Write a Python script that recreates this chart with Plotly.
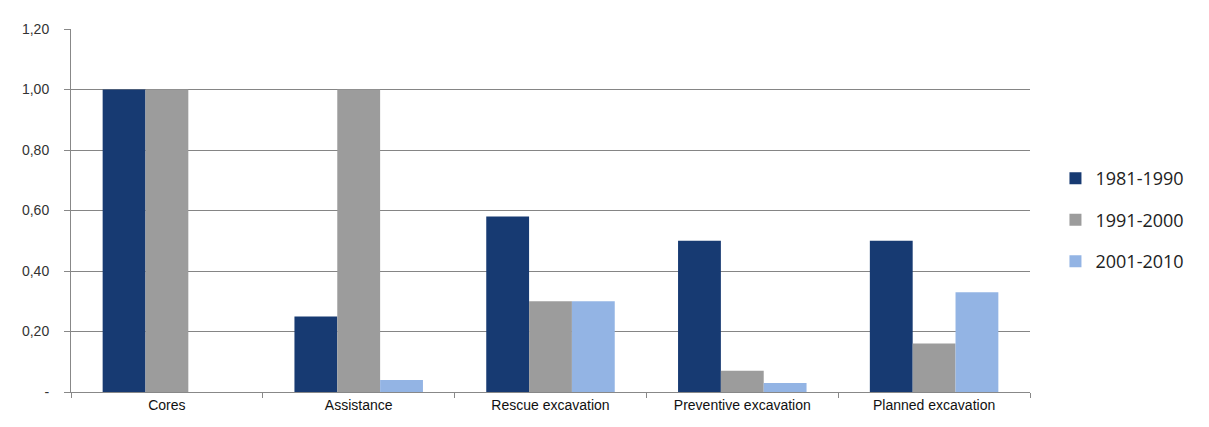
import plotly.graph_objects as go

categories = ["Cores", "Assistance", "Rescue excavation", "Preventive excavation", "Planned excavation"]
series_names = ["1981-1990", "1991-2000", "2001-2010"]
values_1981_1990 = [1.00, 0.25, 0.58, 0.50, 0.50]
values_1991_2000 = [1.00, 1.00, 0.30, 0.07, 0.16]
values_2001_2010 = [0.00, 0.04, 0.30, 0.03, 0.33]
y_tick_values = [0, 0.2, 0.4, 0.6, 0.8, 1.0, 1.2]
y_tick_labels = ["-", "0,20", "0,40", "0,60", "0,80", "1,00", "1,20"]

colors = ["#173a72", "#9c9c9c", "#93b4e4"]

fig = go.Figure()
for i, (name, vals) in enumerate(zip(series_names, [values_1981_1990, values_1991_2000, values_2001_2010])):
    fig.add_trace(go.Bar(
        x=categories, y=vals, name=name, legendgroup=name,
        marker=dict(color=colors[i], line=dict(width=0)),
    ))

fig.update_layout(
    width=1209, height=427,
    margin=dict(l=71, r=179, t=29, b=35),
    paper_bgcolor="white", plot_bgcolor="white",
    barmode="group", bargap=0.33, bargroupgap=0,
    font=dict(family="Liberation Sans, Arial, sans-serif", size=13, color="#222"),
    legend=dict(
        xref="container", yref="container", x=0.873, y=0.625,
        xanchor="left", yanchor="top",
        font=dict(family="Open Sans, sans-serif", size=18, color="#222"),
        traceorder="grouped", tracegroupgap=15,
        itemwidth=30,
    ),
    showlegend=True,
)
fig.update_xaxes(
    showline=True, linecolor="#888", linewidth=1,
    ticks="outside", tickson="boundaries", ticklen=5, tickcolor="#888",
    tickfont=dict(size=14, color="#111"),
    showgrid=False,
)
fig.update_yaxes(
    range=[0, 1.2], tickvals=y_tick_values, ticktext=y_tick_labels,
    showline=True, linecolor="#888", linewidth=1,
    ticks="outside", ticklen=6, tickcolor="#888",
    ticklabelstandoff=12,
    showgrid=True, gridcolor="#858585", gridwidth=1,
    tickfont=dict(size=14, color="#333"),
    zeroline=False,
)

fig.write_html("out.html")
